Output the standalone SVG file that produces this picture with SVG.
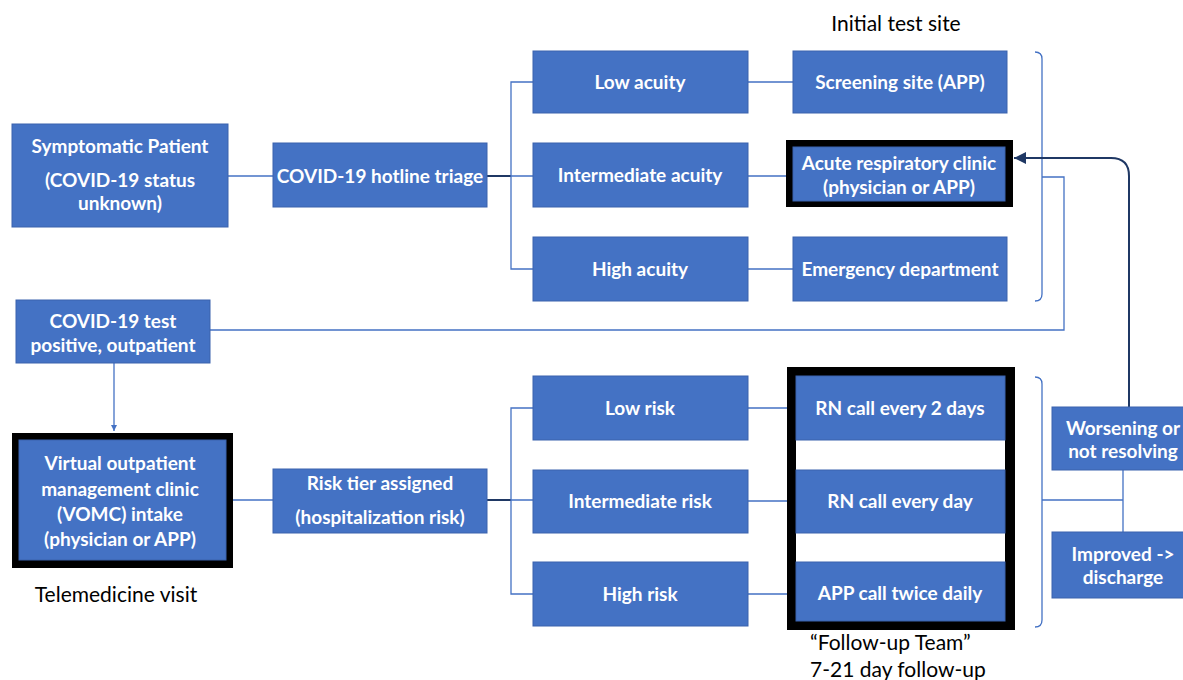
<svg xmlns="http://www.w3.org/2000/svg" width="1183" height="680" viewBox="0 0 1183 680">
<style>
.b{fill:#4472C4;stroke:#3a62ad;stroke-width:1}
.k{fill:#000}
.t{font-family:Lato,"Open Sans",sans-serif;font-size:19px;font-weight:bold;fill:#fff;text-anchor:middle;dominant-baseline:central}
.l{font-family:Lato,"Open Sans",sans-serif;font-size:21px;fill:#000;text-anchor:middle;dominant-baseline:central}
.c{fill:none;stroke:#4472C4;stroke-width:1.3}
.d{fill:none;stroke:#1F3864;stroke-width:2}
</style>
<defs>
<marker id="ab" markerWidth="8" markerHeight="8" refX="6" refY="4" orient="auto" markerUnits="userSpaceOnUse"><path d="M0,1 L6,4 L0,7 z" fill="#4472C4"/></marker>
<marker id="ad" markerWidth="14" markerHeight="14" refX="12" refY="7" orient="auto" markerUnits="userSpaceOnUse"><path d="M0,1 L12,7 L0,13 z" fill="#1F3864"/></marker>
</defs>
<rect width="1183" height="680" fill="#fff"/>
<g id="connectors">
<path class="c" d="M228,176 H273"/>
<path class="d" d="M487,176 H511"/>
<path class="c" d="M533,82 H511 V269 H533 M511,176 H533"/>
<path class="c" d="M748,82 H793 M748,176 H786 M748,269 H793"/>
<path class="c" d="M1035,52 Q1042,52 1042,59 V294 Q1042,301 1035,301 M1042,177 H1064 V330 H210"/>
<path class="c" d="M114,363 V431" marker-end="url(#ab)"/>
<path class="c" d="M233,500 H273"/>
<path class="d" d="M487,500 H511"/>
<path class="c" d="M533,408 H511 V594 H533 M511,500 H533"/>
<path class="c" d="M748,408 H787 M748,501 H787 M748,594 H787"/>
<path class="c" d="M1035,377 Q1042,377 1042,384 V620 Q1042,627 1035,627 M1042,500 H1123 M1123,470 V532"/>
<path class="d" d="M1129,407 V176 Q1129,158 1111,158 H1014" marker-end="url(#ad)"/>
</g>
<text class="l" x="896" y="22">Initial test site</text>
<g id="symptomatic"><rect class="b" x="12" y="124" width="216" height="103"/>
<text class="t" x="120" y="145">Symptomatic Patient</text><text class="t" x="120" y="179">(COVID-19 status</text><text class="t" x="120" y="202">unknown)</text></g>
<g id="hotline"><rect class="b" x="273" y="143" width="214" height="64"/><text class="t" x="380" y="175">COVID-19 hotline triage</text></g>
<g id="low-acuity"><rect class="b" x="533" y="51" width="215" height="62"/><text class="t" x="640" y="81">Low acuity</text></g>
<g id="int-acuity"><rect class="b" x="533" y="143" width="215" height="64"/><text class="t" x="640" y="174">Intermediate acuity</text></g>
<g id="high-acuity"><rect class="b" x="533" y="237" width="215" height="64"/><text class="t" x="640" y="268">High acuity</text></g>
<g id="screening"><rect class="b" x="793" y="51" width="214" height="62"/><text class="t" x="900" y="81">Screening site (APP)</text></g>
<g id="acute"><rect class="k" x="786" y="140" width="227" height="67"/><rect class="b" x="793" y="147" width="212" height="54"/>
<text class="t" x="899" y="162">Acute respiratory clinic</text><text class="t" x="899" y="186">(physician or APP)</text></g>
<g id="ed"><rect class="b" x="793" y="237" width="214" height="64"/><text class="t" x="900" y="268">Emergency department</text></g>
<g id="test-positive"><rect class="b" x="16" y="300" width="194" height="63"/>
<text class="t" x="113" y="320">COVID-19 test</text><text class="t" x="113" y="344">positive, outpatient</text></g>
<g id="vomc"><rect class="k" x="12" y="433" width="221" height="135"/><rect class="b" x="19" y="440" width="207" height="120"/>
<text class="t" x="120" y="462">Virtual outpatient</text><text class="t" x="120" y="488">management clinic</text><text class="t" x="120" y="513">(VOMC) intake</text><text class="t" x="120" y="538">(physician or APP)</text></g>
<text class="l" x="116" y="593">Telemedicine visit</text>
<g id="risk-tier"><rect class="b" x="273" y="469" width="214" height="64"/>
<text class="t" x="380" y="482">Risk tier assigned</text><text class="t" x="380" y="516">(hospitalization risk)</text></g>
<g id="low-risk"><rect class="b" x="533" y="376" width="215" height="64"/><text class="t" x="640" y="407">Low risk</text></g>
<g id="int-risk"><rect class="b" x="533" y="470" width="215" height="63"/><text class="t" x="640" y="500">Intermediate risk</text></g>
<g id="high-risk"><rect class="b" x="533" y="562" width="215" height="64"/><text class="t" x="640" y="593">High risk</text></g>
<g id="followup"><rect class="k" x="787" y="367" width="228" height="263"/><rect x="796" y="376" width="209" height="245" fill="#fff"/>
<g id="rn2"><rect class="b" x="796" y="376" width="209" height="64"/><text class="t" x="900" y="407">RN call every 2 days</text></g>
<g id="rn1"><rect class="b" x="796" y="470" width="209" height="63"/><text class="t" x="900" y="500">RN call every day</text></g>
<g id="app"><rect class="b" x="796" y="562" width="209" height="59"/><text class="t" x="900" y="592">APP call twice daily</text></g></g>
<text class="l" x="810" y="641" style="text-anchor:start">“Follow-up Team”</text>
<text class="l" x="810" y="668" style="text-anchor:start">7-21 day follow-up</text>
<g id="worsening"><rect class="b" x="1052" y="407" width="145" height="63"/>
<text class="t" x="1123" y="427">Worsening or</text><text class="t" x="1123" y="450">not resolving</text></g>
<g id="improved"><rect class="b" x="1052" y="532" width="145" height="66"/>
<text class="t" x="1123" y="553">Improved -&gt;</text><text class="t" x="1123" y="576">discharge</text></g>
</svg>
